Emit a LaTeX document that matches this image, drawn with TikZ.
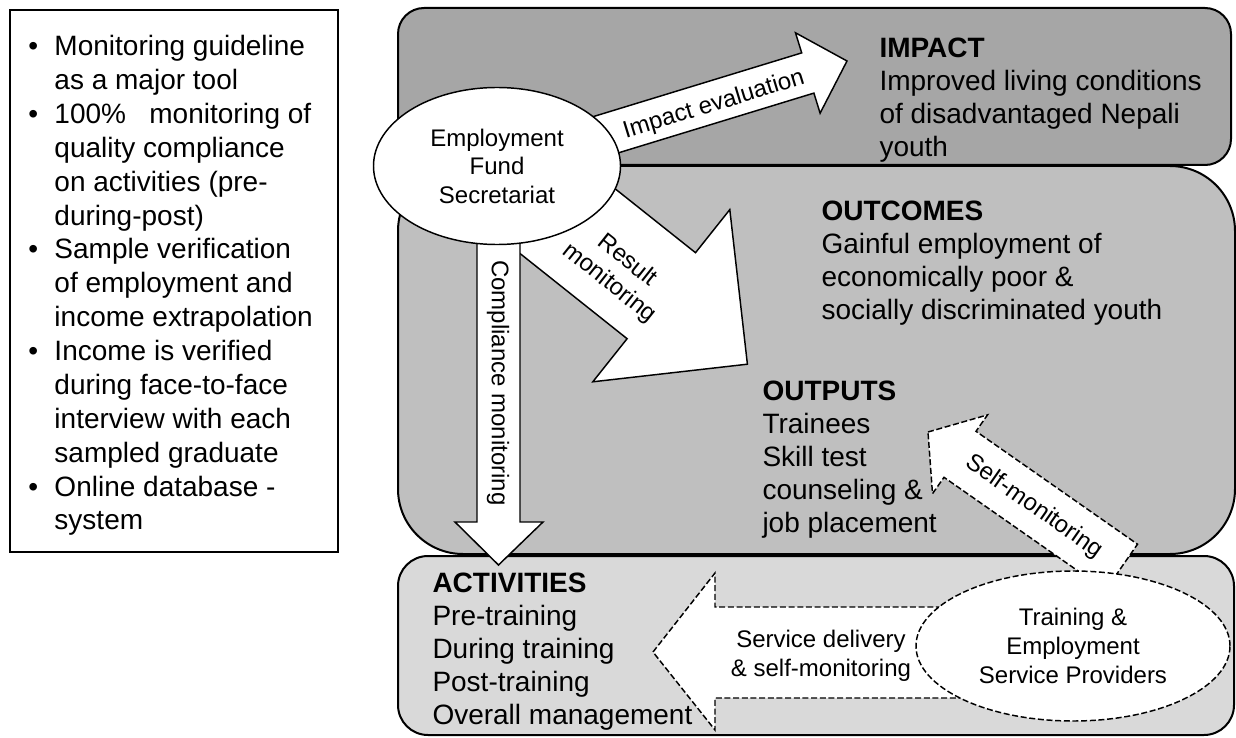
\documentclass[tikz,border=0pt]{standalone}
\usepackage{fontspec}
\setmainfont{Liberation Sans}
\usetikzlibrary{shapes.geometric}

\tikzset{every picture/.style={line width=0.75pt}}
\tikzset{
  panel/.style={draw, line width=1.5pt},
  blockarrow/.style={draw, fill=white, line width=1.1pt, line join=miter},
  dasharrow/.style={blockarrow, dash pattern=on 4.5pt off 2pt},
  bodytext/.style={anchor=north west, inner sep=0pt, align=left, font=\fontsize{21}{24.75}\selectfont},
  arrowtext/.style={inner sep=0pt, align=center, font=\fontsize{18}{21.5}\selectfont},
}
\newcommand{\bul}{\makebox[19.5pt][l]{\textbullet}}
\newcommand{\ind}{\hspace*{19.5pt}}

\begin{document}
\begin{tikzpicture}[x=0.75pt,y=0.75pt,yscale=-1,xscale=1]
\useasboundingbox (0,0) rectangle (1236,738);

%Rectangle (tools list)
\draw [line width=1.5pt] (10,10) rectangle (338,552);
% Text Node
\draw (28,35) node (tools) [anchor=north west, inner sep=0pt, align=left, font=\fontsize{21}{25.4}\selectfont] {\bul Monitoring guideline\\\ind as a major tool\\\bul 100\%~~~monitoring of\\\ind quality compliance\\\ind on activities (pre-\\\ind during-post)\\\bul Sample verification\\\ind of employment and\\\ind income extrapolation\\\bul Income is verified\\\ind during face-to-face\\\ind interview with each\\\ind sampled graduate\\\bul Online database -\\\ind system};

%Rounded Rect (impact level)
\draw [panel, fill={rgb, 255:red, 166; green, 166; blue, 166 }, rounded corners=19.5pt] (398,8) rectangle (1231,165);
%Rounded Rect (outcome level)
\draw [panel, fill={rgb, 255:red, 191; green, 191; blue, 191 }, rounded corners=48.75pt] (398,166) rectangle (1235,554);
%Rounded Rect (activity level)
\draw [panel, fill={rgb, 255:red, 217; green, 217; blue, 217 }, rounded corners=22.5pt] (398,556) rectangle (1234,735);

% Text Node
\draw (879,37) node (impact) [bodytext] {\textbf{IMPACT}\\Improved living conditions\\of disadvantaged Nepali\\youth};
% Text Node
\draw (821,200) node (outcomes) [bodytext] {\textbf{OUTCOMES}\\Gainful employment of\\economically poor \&\\socially discriminated youth};
% Text Node
\draw (762,380) node (outputs) [bodytext] {\textbf{OUTPUTS}\\Trainees\\Skill test\\counseling \&\\job placement};
% Text Node
\draw (432,572) node (activities) [bodytext] {\textbf{ACTIVITIES}\\Pre-training\\During training\\Post-training\\Overall management};

%Right Arrow (impact evaluation)
\draw [blockarrow] (490.9,147.9) -- (801.7,52.9) -- (795.5,32.8) -- (847,61) -- (820.1,113.2) -- (813.9,93.1) -- (503.1,188.1) -- cycle ;
%Right Arrow (result monitoring)
\draw [blockarrow] (531.2,122) -- (695.5,252.7) -- (729.8,209.6) -- (747.4,364.2) -- (592.8,381.8) -- (627.1,338.7) -- (462.8,208) -- cycle ;
%Down Arrow (compliance monitoring)
\draw [blockarrow] (477,165) -- (477,522) -- (455,522) -- (498.5,565) -- (543,522) -- (520,522) -- (520,165) -- cycle ;
%Up Arrow (self-monitoring)
\draw [dasharrow] (928,432) -- (987.5,414.9) -- (976,431.3) -- (1137.5,544.2) -- (1105.5,590.2) -- (944,477.3) -- (932.5,493.7) -- cycle ;
%Left Arrow (service delivery)
\draw [dasharrow] (653,652) -- (715,573) -- (715,607) -- (1000,607) -- (1000,698) -- (715,698) -- (715,730) -- cycle ;

%Ellipse
\draw (497,166) node (efs) [ellipse, draw, fill=white, line width=1.1pt, minimum width=185.25pt, minimum height=117.75pt, inner sep=0pt, align=center, font=\fontsize{18}{21.4}\selectfont] {Employment\\Fund\\Secretariat};
%Ellipse
\draw (1073,646) node (tesp) [ellipse, draw, fill=white, line width=1.1pt, dash pattern=on 4.5pt off 2pt, minimum width=235.5pt, minimum height=112.5pt, inner sep=0pt, align=center, font=\fontsize{18}{21.5}\selectfont] {Training \&\\Employment\\Service Providers};

% Text Node
\draw (714,105) node (impev) [arrowtext, rotate=17] {Impact evaluation};
% Text Node
\draw (618,272) node (resmon) [arrowtext, rotate=-38.5] {Result\\monitoring};
% Text Node
\draw (498,383) node (compmon) [arrowtext, rotate=-90] {Compliance monitoring};
% Text Node
\draw (1034,507) node (selfmon) [arrowtext, rotate=-35] {Self-monitoring};
% Text Node
\draw (821,656) node (servdel) [arrowtext] {Service delivery\\\& self-monitoring};

\end{tikzpicture}
\end{document}
